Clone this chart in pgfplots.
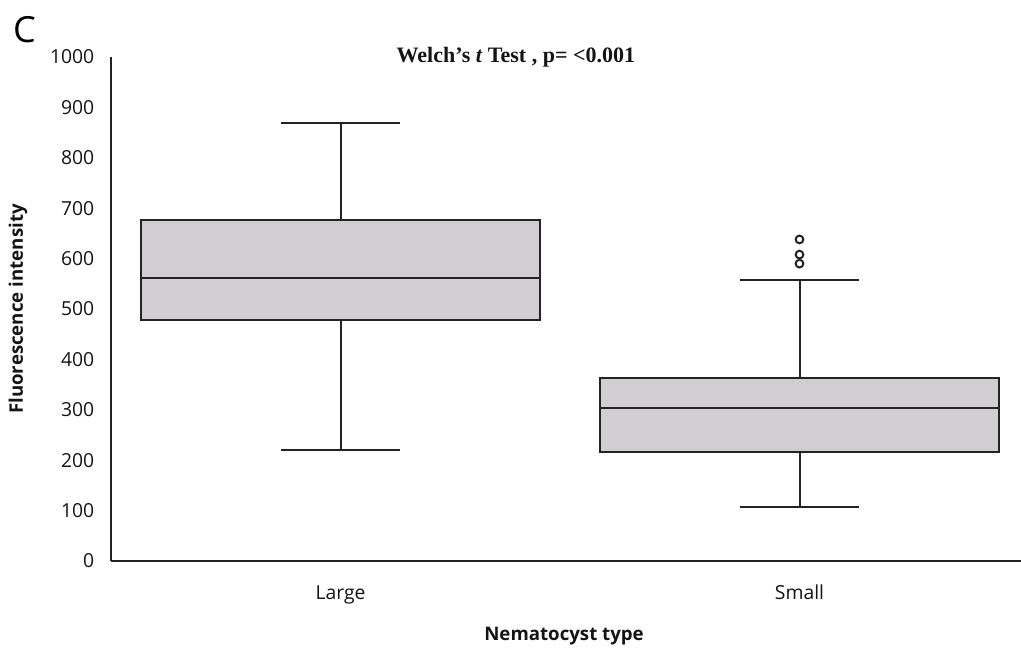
\documentclass[border=0pt]{standalone}
\usepackage{fontspec}
\setmainfont{Open Sans}
\newfontfamily\titlefont{Liberation Serif}
\usepackage{pgfplots}
\pgfplotsset{compat=1.18}
\definecolor{boxgray}{RGB}{208,206,208}
\definecolor{linec}{RGB}{35,35,35}
\definecolor{textc}{RGB}{20,20,20}
\pgfplotsset{seg/.style={draw=linec, line width=1.5pt, mark=none}}
\begin{document}
\begin{tikzpicture}
\useasboundingbox (-83.25pt,-67.5pt) rectangle (682.5pt,420.75pt);
\begin{axis}[
  at={(0pt,0pt)}, anchor=south west,
  scale only axis, width=688.5pt, height=378pt,
  xmin=0.5, xmax=2.5, ymin=0, ymax=1000,
  ytick={0,100,...,1000},
  xtick={1,2}, xticklabels={Large,Small},
  axis x line=bottom, axis y line=left,
  axis line style={-, line width=1.4pt, draw=linec},
  tick align=inside,
  tick style={draw=none},
  /pgf/number format/assume math mode=true,
  /pgf/number format/1000 sep={},
  tick label style={font=\fontsize{14.5}{16}\selectfont, text=textc},
  yticklabel style={anchor=east, xshift=-9pt},
  xticklabel style={anchor=base, yshift=-28.5pt},
  xlabel={Nematocyst type},
  ylabel={Fluorescence intensity},
  xlabel style={at={(axis description cs:0.4935,-0.157)}, anchor=base, font=\fontsize{14}{16}\selectfont\bfseries, text=textc},
  ylabel style={at={(axis description cs:-0.1013,0.5)}, anchor=center, font=\fontsize{14}{16}\selectfont\bfseries, text=textc},
  clip=false,
]
% Large
\addplot[seg] coordinates {(1,676) (1,869)};
\addplot[seg] coordinates {(0.87,869) (1.13,869)};
\addplot[seg] coordinates {(1,479) (1,221)};
\addplot[seg] coordinates {(0.87,221) (1.13,221)};
\addplot[seg, fill=boxgray] coordinates {(0.565,479) (1.435,479) (1.435,676) (0.565,676)} -- cycle;
\addplot[seg] coordinates {(0.565,561) (1.435,561)};
% Small
\addplot[seg] coordinates {(2,364) (2,557)};
\addplot[seg] coordinates {(1.87,557) (2.13,557)};
\addplot[seg] coordinates {(2,217) (2,107)};
\addplot[seg] coordinates {(1.87,107) (2.13,107)};
\addplot[seg, fill=boxgray] coordinates {(1.565,217) (2.435,217) (2.435,364) (1.565,364)} -- cycle;
\addplot[seg] coordinates {(1.565,304) (2.435,304)};
\addplot[only marks, mark=o, mark size=2.9pt, draw=linec, mark options={fill=white, line width=1.5pt}] coordinates {(2,638) (2,608) (2,590)};
\node[anchor=base, font=\titlefont\fontsize{16.5}{18}\selectfont\bfseries, text=textc] at (axis description cs:0.441,0.990) {Welch’s \textit{t} Test , p= <0.001};
\node[anchor=base west, font=\fontsize{27}{30}\selectfont, text=black, inner sep=0pt] at (axis description cs:-0.1068,1.028) {C};
\end{axis}
\end{tikzpicture}
\end{document}
